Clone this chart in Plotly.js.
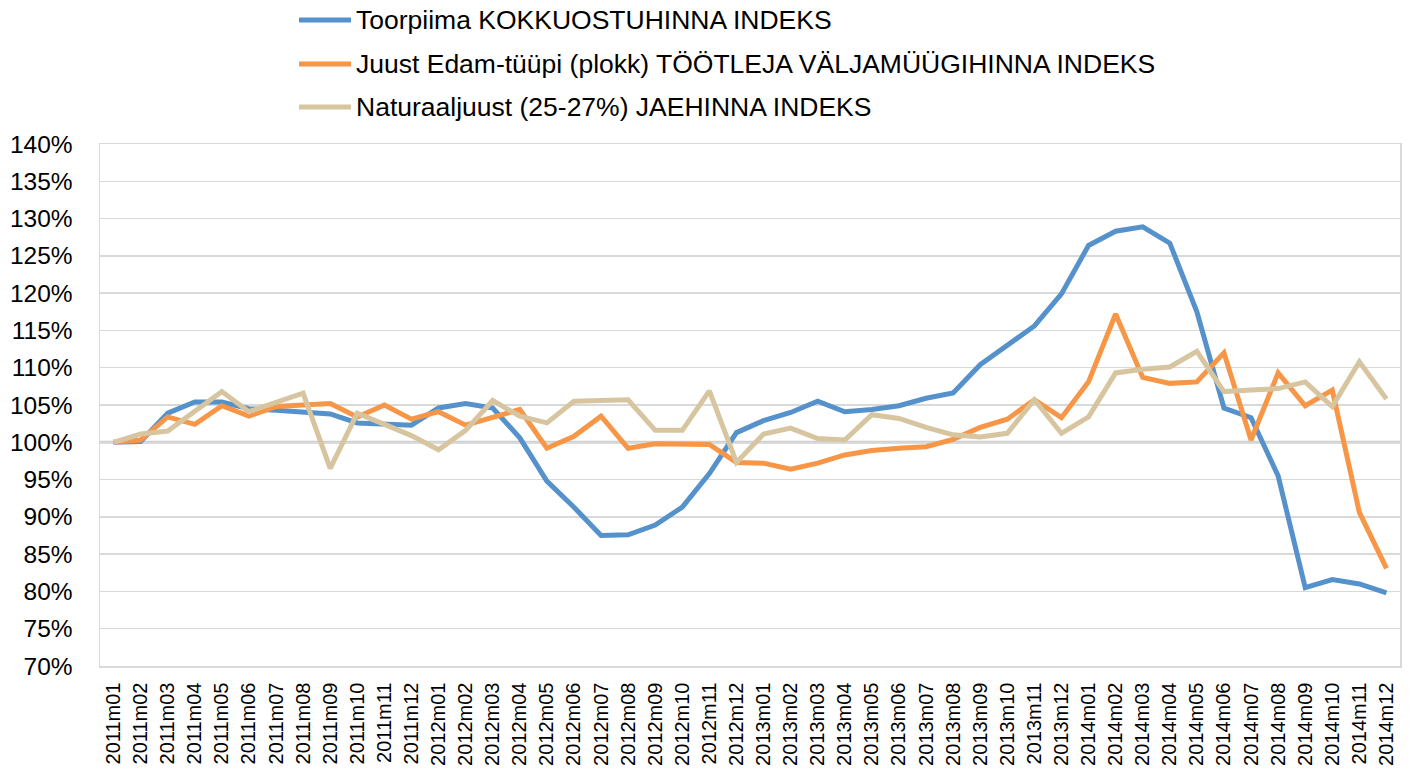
<!DOCTYPE html>
<html>
<head>
<meta charset="utf-8">
<script src="https://cdn.plot.ly/plotly-3.0.1.min.js"></script>
<style>html,body{margin:0;padding:0;background:#fff}#chart{width:1422px;height:769px}</style>
</head>
<body>
<div id="chart"></div>
<script>
const categories = [
 "2011m01","2011m02","2011m03","2011m04","2011m05","2011m06","2011m07","2011m08","2011m09","2011m10","2011m11","2011m12",
 "2012m01","2012m02","2012m03","2012m04","2012m05","2012m06","2012m07","2012m08","2012m09","2012m10","2012m11","2012m12",
 "2013m01","2013m02","2013m03","2013m04","2013m05","2013m06","2013m07","2013m08","2013m09","2013m10","2013m11","2013m12",
 "2014m01","2014m02","2014m03","2014m04","2014m05","2014m06","2014m07","2014m08","2014m09","2014m10","2014m11","2014m12"
];
const toorpiima = [
 100.0,100.1,103.9,105.4,105.4,104.5,104.3,104.0,103.8,102.6,102.5,102.3,
 104.6,105.2,104.6,100.6,94.8,91.3,87.5,87.6,88.9,91.3,95.8,101.3,
 102.9,104.0,105.5,104.1,104.4,104.9,105.9,106.6,110.4,112.9,115.6,119.9,
 126.4,128.3,128.9,126.7,117.5,104.6,103.3,95.5,80.5,81.6,81.0,79.8
];
const juustEdam = [
 100.0,100.3,103.4,102.4,104.9,103.5,104.8,105.0,105.2,103.4,105.0,103.1,
 104.1,102.3,103.4,104.4,99.2,100.8,103.5,99.2,99.8,99.7,99.7,97.3,
 97.2,96.4,97.2,98.3,98.9,99.2,99.4,100.4,102.0,103.1,105.7,103.3,
 108.1,117.2,108.7,107.9,108.1,112.0,100.3,109.3,104.9,107.0,90.6,83.1
];
const naturaaljuust = [
 100.0,101.1,101.5,104.2,106.8,104.1,105.4,106.6,96.5,103.9,102.4,100.9,
 99.0,101.6,105.6,103.5,102.6,105.5,105.6,105.7,101.6,101.6,106.9,97.3,
 101.1,101.9,100.5,100.3,103.7,103.2,102.0,101.0,100.7,101.2,105.7,101.2,
 103.4,109.3,109.8,110.1,112.2,106.8,107.0,107.2,108.1,104.8,110.8,105.8
];
const seriesNames = [
 "Toorpiima KOKKUOSTUHINNA INDEKS",
 "Juust Edam-tüüpi (plokk) TÖÖTLEJA VÄLJAMÜÜGIHINNA INDEKS",
 "Naturaaljuust (25-27%) JAEHINNA INDEKS"
];
const colors = ["#5592CB", "#F79646", "#D7C5A0"];
const yTicks = [70,75,80,85,90,95,100,105,110,115,120,125,130,135,140];

const W = 1422, H = 769;
const M = {l: 100, r: 22, t: 144, b: 103};
const pw = W - M.l - M.r, ph = H - M.t - M.b;
const px2x = px => (px - M.l) / pw;
const py2y = py => (H - M.b - py) / ph;

const data = [toorpiima, juustEdam, naturaaljuust].map((vals, k) => ({
  type: "scatter", mode: "lines", x: categories, y: vals, name: seriesNames[k],
  line: {color: colors[k], width: 5, shape: "linear"}, showlegend: false
}));

// custom legend (long line samples like the original)
const legendY = [20, 64, 107];
const shapes = [{
  type: "line", xref: "paper", x0: 0, x1: 1, yref: "y", y0: 100, y1: 100,
  line: {color: "#D0D0D0", width: 3}, layer: "below"
}];
const annotations = [];
seriesNames.forEach((name, k) => {
  shapes.push({
    type: "line", xref: "paper", yref: "paper",
    x0: px2x(299), x1: px2x(351), y0: py2y(legendY[k]), y1: py2y(legendY[k]),
    line: {color: colors[k], width: 5}
  });
  annotations.push({
    xref: "paper", yref: "paper", x: px2x(354), y: py2y(legendY[k]),
    xanchor: "left", yanchor: "middle", showarrow: false, text: name,
    font: {size: 26.5, color: "#000"}
  });
});

const layout = {
  width: W, height: H,
  margin: {l: M.l, r: M.r, t: M.t, b: M.b, pad: 0},
  paper_bgcolor: "#ffffff", plot_bgcolor: "#ffffff",
  font: {family: "Liberation Sans, Arial, sans-serif", color: "#000000"},
  showlegend: false,
  xaxis: {
    type: "category", range: [-0.5, 47.5], tickangle: -90,
    tickfont: {size: 20, color: "#000"}, showgrid: false, zeroline: false,
    showline: true, linecolor: "#D9D9D9", linewidth: 1.5, mirror: true,
    ticks: "outside", ticklen: 7, tickcolor: "rgba(0,0,0,0)", fixedrange: true
  },
  yaxis: {
    range: [70, 140], tickvals: yTicks, ticktext: yTicks.map(v => v + "%"),
    tickfont: {size: 24.5, color: "#000"}, showgrid: true, gridcolor: "#D9D9D9", gridwidth: 1.5,
    zeroline: false, showline: true, linecolor: "#D9D9D9", linewidth: 1.5, mirror: true,
    ticks: "outside", ticklen: 21, tickcolor: "rgba(0,0,0,0)", fixedrange: true
  },
  shapes: shapes,
  annotations: annotations
};

Plotly.newPlot("chart", data, layout, {displayModeBar: false, staticPlot: true});
</script>
</body>
</html>
